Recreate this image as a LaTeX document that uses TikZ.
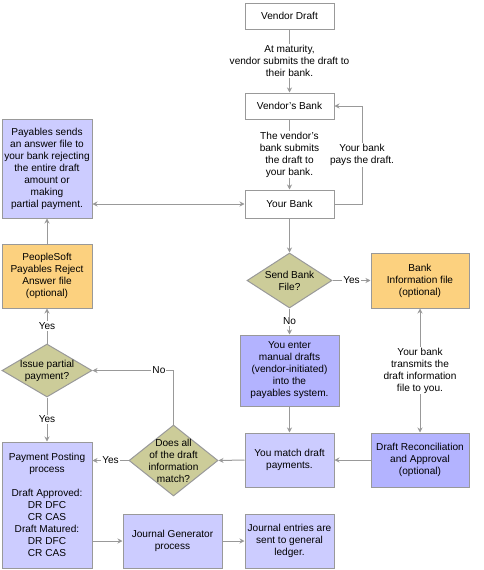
\documentclass[tikz,border=0pt]{standalone}
\usepackage{fontspec}
\setmainfont{Liberation Sans}
\usetikzlibrary{arrows.meta,shapes.geometric}
\definecolor{ln}{HTML}{999999}
\definecolor{lav}{HTML}{CCCCFF}
\definecolor{dlav}{HTML}{B3B3FF}
\definecolor{org}{HTML}{FCD17F}
\definecolor{olv}{HTML}{CCCC99}
\begin{document}
\begin{tikzpicture}[x=1pt,y=-1pt,
  every node/.style={font=\fontsize{10.1}{12}\selectfont, align=center, inner sep=0pt},
  box/.style={draw=ln, line width=1pt, rectangle},
  dia/.style={draw=ln, line width=1pt, diamond, fill=olv},
  conn/.style={draw=ln, line width=1pt, -{Stealth[length=5pt,width=5pt]}},
  bconn/.style={draw=ln, line width=1pt, {Stealth[length=5pt,width=5pt]}-{Stealth[length=5pt,width=5pt]}},
  lbl/.style={fill=white, inner sep=1pt}]
\useasboundingbox (0,0) rectangle (484,570);
% boxes
\node[box, minimum width=89, minimum height=26] (vd) at (289.5,16) {Vendor Draft};
\node[box, minimum width=89, minimum height=26] (vb) at (289.5,106) {Vendor's Bank};
\node[box, minimum width=89, minimum height=28] (yb) at (289.5,204) {Your Bank};
\node[box, fill=lav, minimum width=90, minimum height=99] (pay) at (47,168.5) {Payables sends\\an answer file to\\your bank rejecting\\the entire draft\\amount or\\making\\partial payment.};
\node[box, fill=org, minimum width=90, minimum height=64] (ps) at (47,276) {PeopleSoft\\Payables Reject\\Answer file\\(optional)};
\node[dia, minimum width=90, minimum height=53, label={[align=center]center:Issue partial\\payment?}] (ipp) at (47,370.5) {};
\node[box, fill=lav, minimum width=90, minimum height=126] (pp) at (47,505) {Payment Posting\\process\\[12pt]Draft Approved:\\DR DFC\\CR CAS\\Draft Matured:\\DR DFC\\CR CAS};
\node[box, fill=lav, minimum width=99, minimum height=54] (jg) at (172.5,541) {Journal Generator\\process};
\node[box, fill=lav, minimum width=89, minimum height=54] (je) at (289.5,541) {Journal entries are\\sent to general\\ledger.};
\node[box, fill=lav, minimum width=89, minimum height=54] (match) at (289.5,460) {You match draft\\payments.};
\node[box, fill=dlav, minimum width=98, minimum height=54] (dr) at (420,460) {Draft Reconciliation\\and Approval\\(optional)};
\node[box, fill=org, minimum width=98, minimum height=55] (bif) at (420,280.5) {Bank\\Information file\\(optional)};
\node[dia, minimum width=85, minimum height=55, label={[align=center]center:Send Bank\\File?}] (sbf) at (289.5,280.5) {};
\node[box, fill=dlav, minimum width=99, minimum height=71] (med) at (289.5,370.5) {You enter\\manual drafts\\(vendor-initiated)\\into the\\payables system.};
\node[dia, minimum width=89, minimum height=71, label={[align=center]center:Does all\\of the draft\\information\\match?}] (da) at (173.5,460.5) {};
\coordinate (c1) at (362,204);
\coordinate (c2) at (362,106);
% connectors
\draw[conn] (vd.south) -- node[lbl] {At maturity,\\vendor submits the draft to\\their bank.} (vb.north);
\draw[conn] (vb.south) -- node[lbl] {The vendor's\\bank submits\\the draft to\\your bank.} (yb.north);
\draw[conn] (yb.east) -- (c1) -- node[lbl] {Your bank\\pays the draft.} (c2) -- (vb.east);
\draw[bconn] (yb.west -| pay.east) -- (yb.west);
\draw[conn] (ps.north) -- (pay.south);
\draw[conn] (ipp.north) -- node[lbl] {Yes} (ps.south);
\draw[conn] (ipp.south) -- node[lbl] {Yes} (pp.north);
\draw[conn] (da.north) |- node[lbl, pos=0.59] {No} (ipp.east);
\draw[conn] (da.west) -- node[lbl] {Yes} (da.west -| pp.east);
\draw[conn] (jg.west -| pp.east) -- (jg.west);
\draw[conn] (jg.east) -- (je.west);
\draw[conn] (match.west) -- (da.east);
\draw[conn] (dr.west) -- (match.east);
\draw[conn] (med.south) -- (match.north);
\draw[conn] (yb.south) -- (sbf.north);
\draw[conn] (sbf.south) -- node[lbl] {No} (med.north);
\draw[conn] (sbf.east) -- node[lbl] {Yes} (bif.west);
\draw[bconn] (dr.north) -- node[lbl] {Your bank\\transmits the\\draft information\\file to you.} (bif.south);
\end{tikzpicture}
\end{document}
